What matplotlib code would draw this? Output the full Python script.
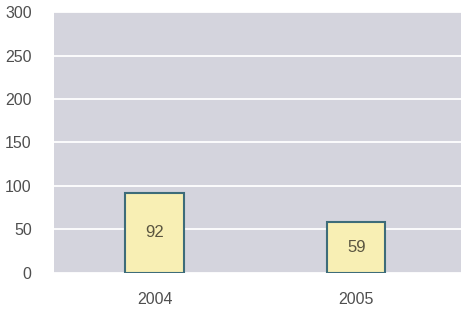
import matplotlib
matplotlib.use("Agg")
import matplotlib.pyplot as plt

years = ["2004", "2005"]
values = [92, 59]
yticks = [0, 50, 100, 150, 200, 250, 300]

plt.rcParams['font.family'] = ['Liberation Sans', 'DejaVu Sans']

fig = plt.figure(figsize=(4.61, 3.17), dpi=100)
ax = fig.add_axes([0.117, 0.139, 0.883, 0.823])
ax.set_facecolor('#d4d4dd')

x = range(len(years))
bars = ax.bar(x, values, width=0.29, color='#f8efb4', edgecolor='#3d6c79', linewidth=1.5, zorder=3)
for b, v in zip(bars, values):
    ax.text(b.get_x() + b.get_width() / 2, v / 2, str(v), ha='center', va='center',
            fontsize=12, color='#5a5540', zorder=4)

ax.set_xlim(-0.5, 1.52)
ax.set_ylim(0, 300)
ax.set_yticks(yticks)
ax.set_xticks(list(x))
ax.set_xticklabels(years)
ax.yaxis.grid(True, color='white', linewidth=1.3, zorder=1)
ax.set_axisbelow(True)
for s in ax.spines.values():
    s.set_visible(False)
ax.tick_params(axis='both', length=0, labelsize=11.5, labelcolor='#4f4f4f')
ax.tick_params(axis='y', pad=16)
ax.tick_params(axis='x', pad=14)

fig.savefig("out.png", dpi=100)
